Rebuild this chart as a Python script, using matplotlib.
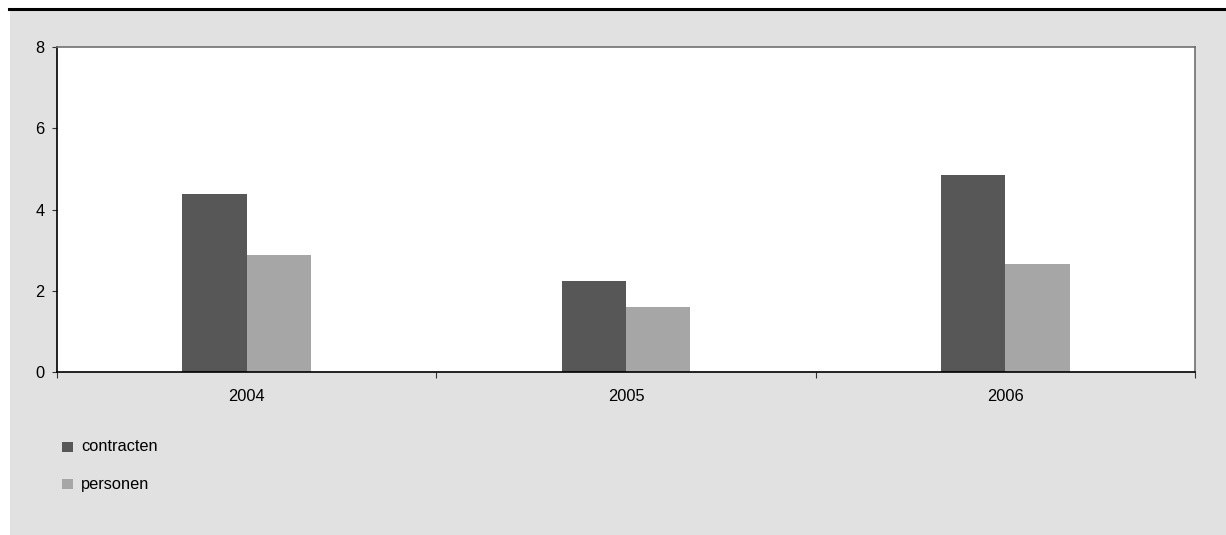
import numpy as np
import matplotlib
matplotlib.use("Agg")
import matplotlib.pyplot as plt
from matplotlib.patches import Rectangle
from matplotlib.lines import Line2D

plt.rcParams['font.family'] = ['Liberation Sans', 'DejaVu Sans']

# Data
years = ["2004", "2005", "2006"]
contracten = [4.38, 2.24, 4.85]
personen = [2.88, 1.61, 2.66]
series_names = ["contracten", "personen"]
yticks = [0, 2, 4, 6, 8]

dark = "#575757"
light = "#a6a6a6"
panel = "#e1e1e1"
fs = 11.8

W, H = 1226, 535
fig = plt.figure(figsize=(W / 100, H / 100), dpi=100)
fig.patch.set_facecolor("white")

# gray panel behind the chart and the heavy rule on top
fig.patches.append(Rectangle((10 / W, 0), 1 - 10 / W, 1 - 10 / H,
                             transform=fig.transFigure, facecolor=panel,
                             edgecolor="none", zorder=-2))
fig.lines.append(Line2D([9 / W, 1], [1 - 8.5 / H, 1 - 8.5 / H],
                        transform=fig.transFigure, color="black", lw=2.2, zorder=-1))

left, right, top, bottom = 57, 1195, 47, 372
ax = fig.add_axes([left / W, 1 - bottom / H, (right - left) / W, (bottom - top) / H])
ax.set_zorder(1)
ax.set_facecolor("white")

x = np.arange(len(years))
w = 0.17
ax.bar(x - w / 2, contracten, width=w, color=dark, label=series_names[0], zorder=2)
ax.bar(x + w / 2, personen, width=w, color=light, label=series_names[1], zorder=2)

ax.set_xlim(-0.5, len(years) - 0.5)
ax.set_ylim(0, 8)
ax.set_yticks(yticks)
ax.set_yticklabels([str(t) for t in yticks], fontsize=fs)
ax.tick_params(axis="y", direction="out", length=3.5, width=0.8, pad=5.5, color="#333333")

# category labels at centres, tick marks at category boundaries
ax.set_xticks(x)
ax.set_xticklabels(years, fontsize=fs)
ax.tick_params(axis="x", which="major", length=0, pad=12)
ax.set_xticks(np.arange(-0.5, len(years)), minor=True)
ax.tick_params(axis="x", which="minor", direction="out", length=4.5, width=0.8, color="#333333")

for side in ["left", "bottom"]:
    ax.spines[side].set_color("black")
    ax.spines[side].set_linewidth(1.2)
for side in ["top", "right"]:
    ax.spines[side].set_color("#707070")
    ax.spines[side].set_linewidth(1.2)

# legend below the plot
for i, (name, col) in enumerate(zip(series_names, [dark, light])):
    yc = 446.5 + i * 37.5
    fig.patches.append(Rectangle((62 / W, 1 - (yc + 5) / H), 11 / W, 10 / H,
                                 transform=fig.transFigure, facecolor=col,
                                 edgecolor="none", zorder=3))
    fig.text(81 / W, 1 - yc / H, name, fontsize=fs, va="center", ha="left")

fig.savefig("out.png", dpi=100)
